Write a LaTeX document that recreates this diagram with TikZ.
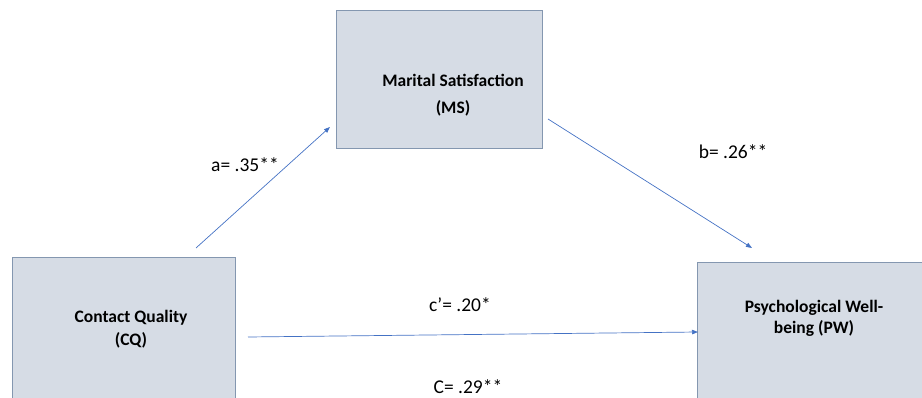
\documentclass[tikz,border=0pt]{standalone}
\usepackage{fontspec}
\setmainfont{Carlito}
\usepackage{xcolor}
\usetikzlibrary{arrows.meta, positioning}

\definecolor{boxfill}{RGB}{214,220,229}
\definecolor{boxline}{RGB}{132,151,176}
\definecolor{arrowblue}{RGB}{68,114,196}

\tikzset{
  varbox/.style={draw=boxline, fill=boxfill, line width=0.9pt, inner sep=0pt},
  vartext/.style={font=\fontsize{17.5}{21}\selectfont\bfseries, align=center},
  pathlabel/.style={font=\fontsize{19.5}{22}\selectfont},
  patharrow/.style={draw=arrowblue, line width=0.7pt, -{Triangle[length=6pt,width=4.5pt]}}
}

\begin{document}
\begin{tikzpicture}[x=1pt,y=-1pt]
  \useasboundingbox (0,0) rectangle (922,398);
  % the three variables
  \node[varbox, minimum width=223pt, minimum height=150pt] (cq) at (123.5,332) {};
  \node[varbox, minimum width=206pt, minimum height=138pt] (ms) at (439,79) {};
  \node[varbox, minimum width=230pt, minimum height=150pt] (pw) at (812,337) {};
  \node[vartext, font=\fontsize{17.5}{23}\selectfont\bfseries] (cqtext) at (131,329) {Contact Quality\\(CQ)};
  \node[vartext, font=\fontsize{17.5}{27}\selectfont\bfseries] (mstext) at (453,95) {Marital Satisfaction\\(MS)};
  \node[vartext] (pwtext) at (814,318) {Psychological Well-\\being (PW)};
  % path ends
  \coordinate (astart) at (196,248);
  \coordinate (aend) at (330,127);
  \coordinate (bstart) at (548,119);
  \coordinate (bend) at (752,248);
  \coordinate (cstart) at (248,337);
  \coordinate (cend) at (698,332);
  \draw[patharrow] (astart) -- (aend);
  \draw[patharrow] (bstart) -- (bend);
  \draw[patharrow] (cstart) -- (cend);
  % coefficients
  \node[pathlabel] (alabel) at (245,165) {a= .35**};
  \node[pathlabel] (blabel) at (733,152) {b= .26**};
  \node[pathlabel] (cplabel) at (460,305) {c\textquoteright= .20*};
  \node[pathlabel] (clabel) at (468,387) {C= .29**};
\end{tikzpicture}
\end{document}
